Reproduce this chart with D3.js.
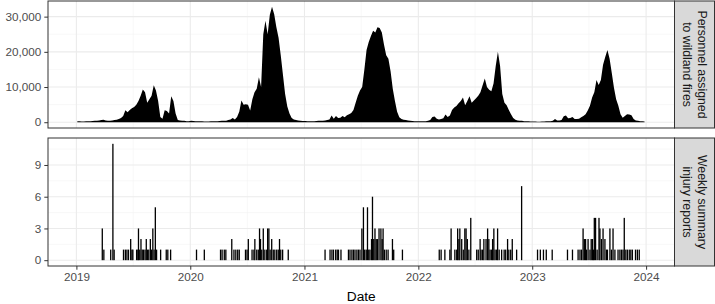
<!DOCTYPE html>
<meta charset="utf-8">
<style>
body { margin: 0; background: #fff; }
svg { font-family: "Liberation Sans", Arial, Helvetica, sans-serif; }
.axis text { font-size: 11.7px; fill: #4d4d4d; }
.axis line { stroke: #333; }
.axis path { display: none; }
.grid-major { stroke: #ebebeb; stroke-width: 1.1; }
.grid-minor { stroke: #f3f3f3; stroke-width: 0.6; }
.strip text { font-size: 12.3px; fill: #1a1a1a; }
</style>
<body>
<div id="chart"></div>
<script src="https://cdn.jsdelivr.net/npm/d3@7"></script>
<script>
// weekly personnel assigned, one array per year (week 0..51)
var years = [2019, 2020, 2021, 2022, 2023];
var personnel2019 = [300,250,200,200,250,300,300,350,400,450,500,600,
  700,500,400,450,500,600,700,900,
  1200,1800,3400,2800,3500,4000,4300,5000,6000,7500,
  9300,8500,5500,6500,7500,10500,9000,6000,1500,1000,
  3400,3200,2500,7400,6000,2500,600,500,400,400,300,300];
var personnel2020 = [400,350,300,300,300,250,200,200,200,250,300,
  300,300,350,400,400,450,600,800,
  1200,800,1500,3000,6200,5000,5100,5000,3300,6500,
  8500,9500,12800,10000,25000,28800,25000,30500,32800,30700,
  27000,24000,19000,13500,8000,4500,2500,1200,800,600,500,400,350];
var personnel2021 = [350,300,300,250,300,350,400,400,450,500,
  600,800,1900,1000,1800,1200,1300,1800,1400,2000,
  2300,2600,3500,5500,7500,9000,10000,15000,20500,22800,
  24500,26000,25500,27000,26800,25500,22000,19000,18000,14500,
  9500,6000,3000,1400,900,700,600,500,400,350,300,300];
var personnel2022 = [300,250,250,300,400,600,
  1500,1600,1000,800,900,1100,2200,1500,1900,3500,4200,4600,5400,6000,
  7000,4800,6000,7400,5500,6200,6800,7500,8500,10500,
  12400,10000,9200,8800,11000,16000,20000,16000,8000,5500,
  4800,3500,2300,1200,700,500,400,400,300,300,250,200];
var personnel2023 = [200,200,150,150,200,200,250,300,300,
  400,900,500,500,600,1700,1900,1100,1200,1500,900,
  900,1000,1400,1800,2300,3300,4700,7000,8500,12000,
  10600,12000,16300,18500,20500,18000,14000,9800,6500,4700,
  2300,1300,1800,2300,2200,2000,900,500,400,300,250,200];
var personnelByYear = [personnel2019, personnel2020, personnel2021, personnel2022, personnel2023];

// weekly summary injury reports
var injuryDates = [
  "2019-03-25","2019-03-30","2019-04-21","2019-04-28","2019-05-02","2019-06-01","2019-06-07","2019-06-12",
  "2019-06-17","2019-06-24","2019-06-28","2019-07-01","2019-07-13","2019-07-17","2019-07-19","2019-07-23",
  "2019-07-27","2019-07-31","2019-08-04","2019-08-09","2019-08-13","2019-08-17","2019-08-21","2019-08-26",
  "2019-08-30","2019-09-03","2019-09-07","2019-09-11","2019-09-15","2019-09-28","2019-10-16","2019-10-21",
  "2019-10-30",
  "2020-01-21","2020-02-15","2020-04-07","2020-04-12","2020-04-19","2020-04-24","2020-05-13","2020-05-20",
  "2020-05-26","2020-06-01","2020-06-06","2020-06-26","2020-07-01","2020-07-05","2020-07-17","2020-07-23",
  "2020-07-26","2020-08-01","2020-08-06","2020-08-10","2020-08-13","2020-08-17","2020-08-22","2020-08-27",
  "2020-09-02","2020-09-05","2020-09-09","2020-09-13","2020-09-18","2020-09-23","2020-09-28","2020-10-04",
  "2020-10-09","2020-10-13","2020-10-17","2020-10-23","2020-11-10",
  "2021-03-08","2021-03-24","2021-03-30","2021-04-04","2021-04-11","2021-04-16","2021-04-20","2021-04-28",
  "2021-05-22","2021-05-27","2021-06-02","2021-06-07","2021-06-12","2021-06-18","2021-06-23","2021-06-28",
  "2021-07-04","2021-07-09","2021-07-13","2021-07-18","2021-07-22","2021-07-26","2021-07-30","2021-08-04",
  "2021-08-07","2021-08-11","2021-08-15","2021-08-19","2021-08-23","2021-08-28","2021-09-03","2021-09-07",
  "2021-09-10","2021-09-14","2021-09-20","2021-09-26","2021-10-10","2021-10-14","2021-11-11",
  "2022-03-09","2022-03-15","2022-03-27","2022-04-12","2022-04-16","2022-04-28","2022-05-04","2022-05-07",
  "2022-05-11","2022-05-14","2022-05-20","2022-05-25","2022-05-30","2022-06-03","2022-06-07","2022-06-12",
  "2022-06-18","2022-07-07","2022-07-12","2022-07-18","2022-07-21","2022-07-26","2022-07-30","2022-08-06",
  "2022-08-11","2022-08-15","2022-08-19","2022-08-24","2022-08-27","2022-08-31","2022-09-04","2022-09-09",
  "2022-09-12","2022-09-17","2022-09-25","2022-10-03","2022-10-08","2022-10-14","2022-10-18","2022-10-24",
  "2022-10-29","2022-11-12","2022-11-28",
  "2023-01-18","2023-01-27","2023-02-06","2023-02-15","2023-03-06","2023-04-24","2023-05-10","2023-05-28",
  "2023-06-03","2023-06-08","2023-06-13","2023-06-17","2023-06-21","2023-06-24","2023-06-29","2023-07-05",
  "2023-07-09","2023-07-13","2023-07-16","2023-07-19","2023-07-23","2023-07-28","2023-08-03","2023-08-06",
  "2023-08-11","2023-08-16","2023-08-22","2023-08-27","2023-08-30","2023-09-07","2023-09-12","2023-09-17",
  "2023-09-23","2023-10-03","2023-10-09","2023-10-14","2023-10-19","2023-10-23","2023-10-28","2023-11-02",
  "2023-11-08","2023-11-13","2023-11-18","2023-11-28","2023-12-04","2023-12-10"];
var injuryCounts = [
  3,1,1,11,1,1,1,1, 1,2,1,1,1,1,3,1, 2,1,1,1,2,1,1,2, 1,3,1,5,1,1,1,1, 1,
  1,1,1,1,1,1,2,1, 1,1,1,1,1,2,1,1, 2,1,1,3,2,1,3,1, 1,3,3,1,2,1,1,1, 1,2,1,1,1,
  1,1,1,1,1,1,1,1, 1,1,1,1,1,1,1,1, 3,5,1,1,5,1,1,2, 6,2,3,2,2,3,3,2, 3,1,1,1,2,1,1,
  1,1,1,1,3,1,1,3, 2,3,2,1,3,3,2,1, 4,1,1,2,1,1,2,2, 3,2,1,1,2,3,1,1, 3,1,1,1,1,2,1,1, 2,1,7,
  1,1,1,1,1,1,1,1, 1,1,3,2,2,1,2,1, 2,2,1,4,4,1,4,3, 2,3,2,1,1,3,1,3, 1,1,1,1,1,4,1,1, 1,1,1,1,1,1];

var xTickYears = [2019, 2020, 2021, 2022, 2023, 2024];
var personnelTicks = [0, 10000, 20000, 30000];
var personnelMinor = [5000, 15000, 25000];
var injuryTicks = [0, 3, 6, 9];
var injuryMinor = [1.5, 4.5, 7.5, 10.5];
var stripLabels = [["Personnel assigned", "to wildland fires"], ["Weekly summary", "injury reports"]];

var W = 715, H = 304,
    left = 48, right = 674.5, stripW = 40,
    top1 = 1, bot1 = 128, top2 = 138, bot2 = 266;

var svg = d3.select("#chart").append("svg").attr("width", W).attr("height", H);

var personnel = [];
years.forEach(function(yr, k) {
  personnelByYear[k].forEach(function(v, i) {
    personnel.push({date: d3.timeDay.offset(new Date(yr, 0, 1), 7 * i + 3), value: v});
  });
});
var parse = d3.timeParse("%Y-%m-%d");
var injuries = injuryDates.map(function(d, i) { return {date: parse(d), value: injuryCounts[i]}; });

var x = d3.scaleTime()
  .domain([d3.timeDay.offset(new Date(2019, 0, 1), -91), d3.timeDay.offset(new Date(2024, 0, 1), 91)])
  .range([left, right]);
var yTop = d3.scaleLinear().domain([-1640, 34440]).range([bot1, top1]);
var yBot = d3.scaleLinear().domain([-0.55, 11.55]).range([bot2, top2]);

var majorX = xTickYears.map(function(y) { return new Date(y, 0, 1); });
var minorX = years.map(function(y) { return new Date(y, 6, 2); });

function panel(y, top, bot, majorY, minorY, id) {
  var g = svg.append("g");
  g.append("rect").attr("x", left).attr("y", top).attr("width", right - left).attr("height", bot - top).attr("fill", "#fff");
  g.selectAll(".mnx").data(minorX).enter().append("line").attr("class", "grid-minor")
    .attr("x1", function(d) { return x(d); }).attr("x2", function(d) { return x(d); }).attr("y1", top).attr("y2", bot);
  g.selectAll(".mny").data(minorY).enter().append("line").attr("class", "grid-minor")
    .attr("y1", function(d) { return y(d); }).attr("y2", function(d) { return y(d); }).attr("x1", left).attr("x2", right);
  g.selectAll(".mjx").data(majorX).enter().append("line").attr("class", "grid-major")
    .attr("x1", function(d) { return x(d); }).attr("x2", function(d) { return x(d); }).attr("y1", top).attr("y2", bot);
  g.selectAll(".mjy").data(majorY).enter().append("line").attr("class", "grid-major")
    .attr("y1", function(d) { return y(d); }).attr("y2", function(d) { return y(d); }).attr("x1", left).attr("x2", right);
  svg.append("clipPath").attr("id", id).append("rect")
    .attr("x", left).attr("y", top).attr("width", right - left).attr("height", bot - top);
  return g;
}

var g1 = panel(yTop, top1, bot1, personnelTicks, personnelMinor, "clip1");
g1.append("path").datum(personnel)
  .attr("clip-path", "url(#clip1)")
  .attr("fill", "#000")
  .attr("d", d3.area()
    .x(function(d) { return x(d.date); })
    .y0(yTop(0))
    .y1(function(d) { return yTop(d.value); }));

var g2 = panel(yBot, top2, bot2, injuryTicks, injuryMinor, "clip2");
g2.append("g").attr("clip-path", "url(#clip2)")
  .selectAll("rect").data(injuries).enter().append("rect")
  .attr("x", function(d) { return x(d.date) - 0.65; })
  .attr("width", 1.3)
  .attr("y", function(d) { return yBot(d.value); })
  .attr("height", function(d) { return yBot(0) - yBot(d.value); })
  .attr("fill", "#000");

// panel borders and strips
[[top1, bot1], [top2, bot2]].forEach(function(p, i) {
  svg.append("rect").attr("x", left).attr("y", p[0]).attr("width", right - left).attr("height", p[1] - p[0])
    .attr("fill", "none").attr("stroke", "#333").attr("stroke-width", 1);
  var s = svg.append("g").attr("class", "strip");
  s.append("rect").attr("x", right).attr("y", p[0]).attr("width", stripW).attr("height", p[1] - p[0])
    .attr("fill", "#d9d9d9").attr("stroke", "#333").attr("stroke-width", 1);
  var cx = right + stripW / 2, cy = (p[0] + p[1]) / 2;
  var t = s.append("text").attr("transform", "translate(" + cx + "," + cy + ") rotate(90)")
    .attr("text-anchor", "middle");
  t.append("tspan").attr("x", 0).attr("y", -3.5).text(stripLabels[i][0]);
  t.append("tspan").attr("x", 0).attr("y", 11.5).text(stripLabels[i][1]);
});

svg.append("g").attr("class", "axis").attr("transform", "translate(" + left + ",0)")
  .call(d3.axisLeft(yTop).tickValues(personnelTicks).tickFormat(d3.format(",")).tickSize(3.7).tickPadding(3));
svg.append("g").attr("class", "axis").attr("transform", "translate(" + left + ",0)")
  .call(d3.axisLeft(yBot).tickValues(injuryTicks).tickSize(3.7).tickPadding(3));
svg.append("g").attr("class", "axis").attr("transform", "translate(0," + bot2 + ")")
  .call(d3.axisBottom(x).tickValues(majorX).tickFormat(d3.timeFormat("%Y")).tickSize(3.7).tickPadding(3));

svg.append("text").attr("x", (left + right) / 2).attr("y", 300.5)
  .attr("text-anchor", "middle").attr("font-size", "13.7px").attr("fill", "#000").text("Date");
</script>
